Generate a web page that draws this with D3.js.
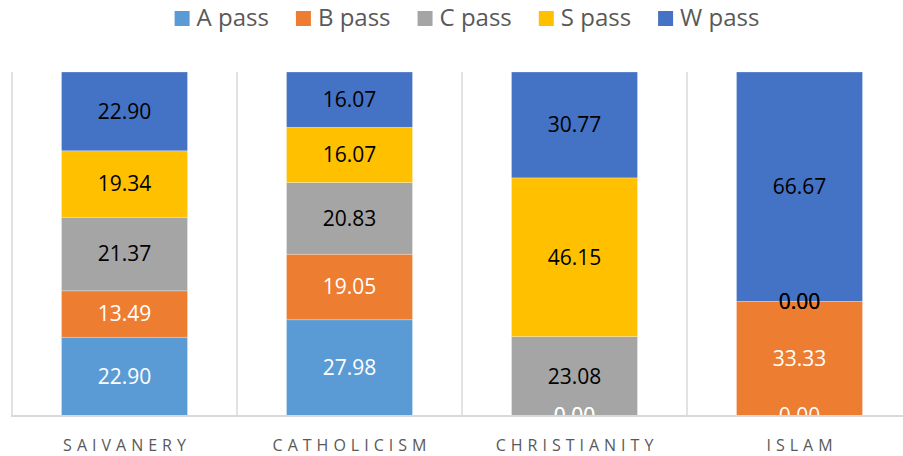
<!DOCTYPE html>
<html>
<head>
<meta charset="utf-8">
<script src="https://cdn.jsdelivr.net/npm/d3@7/dist/d3.min.js"></script>
<style>
  html, body { margin: 0; padding: 0; background: #fff; }
  svg { display: block; font-family: "Open Sans", "Liberation Sans", sans-serif; }
</style>
</head>
<body>
<svg id="chart" width="903" height="456"></svg>
<script>
const categories = ["SAIVANERY", "CATHOLICISM", "CHRISTIANITY", "ISLAM"];
const seriesNames = ["A pass", "B pass", "C pass", "S pass", "W pass"];
const aPass = [22.90, 27.98, 0.00, 0.00];
const bPass = [13.49, 19.05, 0.00, 33.33];
const cPass = [21.37, 20.83, 23.08, 0.00];
const sPass = [19.34, 16.07, 46.15, 0.00];
const wPass = [22.90, 16.07, 30.77, 66.67];
const colors = ["#5B9BD5", "#ED7D31", "#A5A5A5", "#FFC000", "#4472C4"];
const labelColors = ["#ffffff", "#ffffff", "#000000", "#000000", "#000000"];

const seriesValues = [aPass, bPass, cPass, sPass, wPass];
const table = categories.map((c, i) => {
  const row = { cat: c };
  seriesNames.forEach((s, j) => row[s] = seriesValues[j][i]);
  return row;
});

const svg = d3.select("#chart");
const plotLeft = 12, plotRight = 912, plotTop = 72, plotBottom = 416;

const x = d3.scaleBand().domain(categories).range([plotLeft, plotRight]).paddingInner(0.44).paddingOuter(0.22);
const y = d3.scaleLinear().domain([0, 100]).range([plotBottom, plotTop]);

const stacked = d3.stack().keys(seriesNames)(table);

// vertical gridlines at category boundaries
const step = x.step();
const bounds = d3.range(categories.length + 1).map(i => plotLeft + i * step);
svg.append("g").selectAll("line").data(bounds).join("line")
  .attr("x1", d => d).attr("x2", d => d)
  .attr("y1", plotTop).attr("y2", plotBottom)
  .attr("stroke", "#d9d9d9").attr("stroke-width", 1.5);

// bars
const gBars = svg.append("g");
stacked.forEach((layer, j) => {
  gBars.append("g").selectAll("rect").data(layer).join("rect")
    .attr("x", d => x(d.data.cat))
    .attr("width", x.bandwidth())
    .attr("y", d => y(d[1]))
    .attr("height", d => y(d[0]) - y(d[1]))
    .attr("fill", colors[j])
    .attr("stroke", "#ffffff").attr("stroke-opacity", 0.35).attr("stroke-width", 0.75);
});

// x axis line
svg.append("line")
  .attr("x1", plotLeft - 1).attr("x2", plotRight)
  .attr("y1", plotBottom).attr("y2", plotBottom)
  .attr("stroke", "#d9d9d9").attr("stroke-width", 2);

// clip for labels
svg.append("defs").append("clipPath").attr("id", "plotclip")
  .append("rect").attr("x", plotLeft).attr("y", plotTop - 20)
  .attr("width", plotRight - plotLeft).attr("height", plotBottom - plotTop + 19);

const gLabels = svg.append("g").attr("clip-path", "url(#plotclip)");
stacked.forEach((layer, j) => {
  gLabels.append("g").selectAll("text").data(layer).join("text")
    .attr("x", d => x(d.data.cat) + x.bandwidth() / 2)
    .attr("y", d => (y(d[0]) + y(d[1])) / 2)
    .attr("dy", "0.35em")
    .attr("text-anchor", "middle")
    .attr("font-size", 21)
    .attr("fill", labelColors[j])
    .text(d => (d[1] - d[0]).toFixed(2));
});

// category labels
const xAxis = d3.axisBottom(x).tickSize(0).tickPadding(0);
const gx = svg.append("g").attr("transform", `translate(0,${plotBottom})`).call(xAxis);
gx.select(".domain").remove();
gx.selectAll("text")
  .attr("y", 35).attr("dy", 0)
  .attr("font-family", "'Open Sans', sans-serif")
  .attr("font-size", 16)
  .attr("letter-spacing", "5px")
  .attr("fill", "#595959")
  .attr("dx", "2.5px");

// legend
const legend = svg.append("g");
const items = legend.selectAll("g").data(seriesNames).join("g");
items.append("rect").attr("width", 15).attr("height", 15).attr("y", 11)
  .attr("fill", (d, i) => colors[i]);
items.append("text").attr("x", 22).attr("y", 26)
  .attr("font-size", 24).attr("fill", "#595959").text(d => d);
const widths = [];
items.each(function() {
  widths.push(d3.select(this).select("text").node().getComputedTextLength());
});
const gap = 27;
const total = widths.reduce((s, w) => s + 22 + w + gap, 0) - gap;
let cursor = 467 - total / 2;
items.attr("transform", (d, i) => {
  const t = `translate(${cursor},0)`;
  cursor += 22 + widths[i] + gap;
  return t;
});
</script>
</body>
</html>
